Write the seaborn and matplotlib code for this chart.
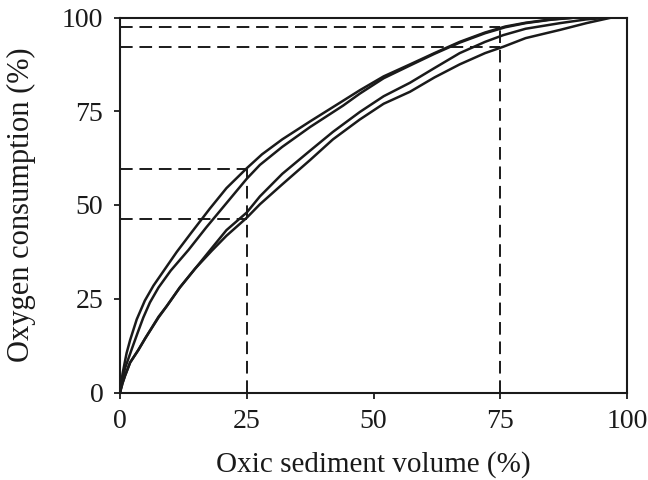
import numpy as np
import pandas as pd
import matplotlib
matplotlib.use("Agg")
import matplotlib.pyplot as plt
import seaborn as sns

# Curve data
a_x = [0, 0.5, 1.3, 2, 3.3, 4.9, 6.6, 8.9, 11.2, 14, 17.7, 21, 25, 28, 32, 37.5, 44, 47.3, 52, 57.2, 62, 67, 72, 76, 80, 85, 90, 100]
a_y = [0, 5, 10.5, 14, 19.5, 24.5, 28.5, 33, 37.5, 42.5, 49, 54.5, 59.8, 63.5, 67.5, 72.3, 77.8, 80.6, 84.3, 87.5, 90.5, 93.5, 96, 97.6, 98.6, 99.5, 100, 100]

b_x = [0, 0.5, 1, 2.3, 3.5, 4.6, 5.9, 7.6, 10, 13.5, 17, 21, 25, 27.6, 32, 37.5, 44, 47.3, 52, 57.2, 62, 67, 72, 76, 80, 85, 90, 100]
b_y = [0, 3.5, 6.5, 11.5, 16, 20, 24, 28, 32.5, 38, 44, 50.5, 57, 60.7, 65.5, 70.8, 76.5, 79.7, 83.8, 87.2, 90.3, 93.3, 95.8, 97.4, 98.5, 99.4, 100, 100]

c_x = [0, 0.5, 1, 2, 3.6, 5, 7.6, 9.2, 11.8, 14.8, 18.1, 21, 25, 27.6, 32, 37.5, 42, 47.3, 52, 57.2, 62, 67, 72, 75.6, 80, 86.8, 92, 97, 100]
c_y = [0, 2.5, 4.5, 8, 11.3, 14.5, 20.2, 23, 28, 33, 38.5, 43.3, 48, 52.3, 58.3, 64.5, 69.5, 74.8, 79, 82.6, 86.5, 90.5, 93.5, 95.3, 97, 98.5, 99.5, 100, 100]

d_x = [0, 0.5, 1, 2, 3.6, 5, 7.6, 9.2, 11.8, 14.8, 18.1, 21, 25, 27.6, 32, 37.5, 42, 47.3, 52, 57.2, 62, 67, 72, 75.6, 80, 86.8, 92, 97, 100]
d_y = [0, 2.5, 4.5, 8, 11.3, 14.5, 20, 23, 28, 33, 37.8, 41.8, 46.6, 50.2, 55.5, 62, 67.5, 72.8, 77, 80.2, 84, 87.5, 90.5, 92.2, 94.5, 96.7, 98.5, 100, 100]

# Reference (dashed) guide values
ref_x = [25, 75]
ref_y25 = [59.6, 46.3]
ref_y75 = [97.4, 92.1]

ticks = [0, 25, 50, 75, 100]

sns.set_theme(style="ticks")
plt.rcParams["font.family"] = ["Liberation Serif", "DejaVu Serif"]

fig = plt.figure(figsize=(6.48, 4.8), dpi=100)
ax = fig.add_axes([120 / 648, 1 - 392.5 / 480, 507 / 648, 375 / 480])

frames = []
for name, xs, ys in [("A", a_x, a_y), ("B", b_x, b_y), ("C", c_x, c_y), ("D", d_x, d_y)]:
    frames.append(pd.DataFrame({"x": xs, "y": ys, "curve": name}))
df = pd.concat(frames, ignore_index=True)

sns.lineplot(data=df, x="x", y="y", units="curve", estimator=None, sort=False,
             color="#1a1a1a", linewidth=1.8, ax=ax, legend=False)

dash_kw = dict(color="#1a1a1a", linewidth=1.4, dashes=(6.5, 3.5))
# x = 25 guides
ax.plot([ref_x[0], ref_x[0]], [0, max(ref_y25)], **dash_kw)
for yv in ref_y25:
    ax.plot([0, ref_x[0]], [yv, yv], **dash_kw)
# x = 75 guides
ax.plot([ref_x[1], ref_x[1]], [0, max(ref_y75)], **dash_kw)
for yv in ref_y75:
    ax.plot([0, ref_x[1]], [yv, yv], **dash_kw)

ax.set_xlim(0, 100)
ax.set_ylim(0, 100)
ax.set_xticks(ticks)
ax.set_yticks(ticks)
ax.set_xticklabels([str(t) for t in ticks])
ax.set_yticklabels([str(t) for t in ticks])
ax.tick_params(axis="both", direction="out", length=4, width=1.3, colors="#1a1a1a",
               labelsize=20, pad=8)
for s in ax.spines.values():
    s.set_visible(True)
    s.set_linewidth(1.5)
    s.set_color("#1a1a1a")

ax.set_xlabel("Oxic sediment volume (%)", fontsize=21, color="#1a1a1a")
ax.set_ylabel("Oxygen consumption (%)", fontsize=22, color="#1a1a1a")
ax.xaxis.set_label_coords(0.5, -0.155)
ax.yaxis.set_label_coords(-0.165, 0.5)
ax.grid(False)

fig.savefig("out.png", dpi=100)
